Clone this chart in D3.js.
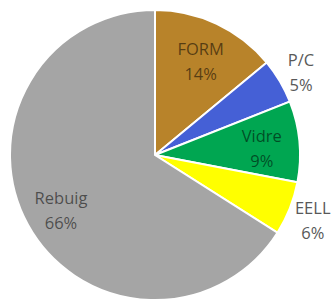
<!DOCTYPE html>
<html>
<head>
<meta charset="utf-8">
<script src="https://cdn.jsdelivr.net/npm/d3@7"></script>
<style>
    body { margin: 0; background: #fff; }
    svg text { font-family: "Open Sans", sans-serif; }
</style>
</head>
<body>
<div id="chart"></div>
<script>
const categories = ["FORM", "P/C", "Vidre", "EELL", "Rebuig"];
const values = [14, 5, 9, 6, 66];
const labels = ["14%", "5%", "9%", "6%", "66%"];
const colors = ["#B8832A", "#4560D6", "#00A651", "#FFFF00", "#A5A5A5"];

const width = 334,
    height = 300,
    radius = 145;

let svg = d3.select("#chart")
    .append("svg")
    .attr("width", width)
    .attr("height", height);

let group = svg.append("g")
    .attr("transform", "translate(155,155)");

const data = categories.map((c, i) => ({ name: c, value: values[i], label: labels[i], color: colors[i] }));

const pie = d3.pie()
    .value(d => d.value)
    .sort(null);

const arc = d3.arc()
    .innerRadius(0)
    .outerRadius(radius);

const arcs = pie(data);

group.selectAll(".slice")
    .data(arcs)
    .join("path")
    .attr("class", "slice")
    .attr("d", arc)
    .attr("fill", d => d.data.color)
    .attr("stroke", "#fff")
    .attr("stroke-width", 2);

// small slices get their label outside the pie
function labelArc(d) {
    let r = d.data.value < 8 ? radius * 1.17 : radius * 0.74;
    return d3.arc().innerRadius(r).outerRadius(r).centroid(d);
}

let lbl = group.selectAll(".lbl")
    .data(arcs)
    .join("text")
    .attr("class", "lbl")
    .attr("text-anchor", "middle")
    .attr("font-size", 16.5)
    .attr("fill", d => d.data.value < 8 ? "#595959" : "#000")
    .attr("fill-opacity", d => d.data.value < 8 ? 1 : 0.55)
    .attr("transform", d => "translate(" + labelArc(d) + ")");

lbl.append("tspan")
    .attr("x", 0)
    .attr("y", -3)
    .text(d => d.data.name);

lbl.append("tspan")
    .attr("x", 0)
    .attr("y", 22)
    .text(d => d.data.label);
</script>
</body>
</html>
